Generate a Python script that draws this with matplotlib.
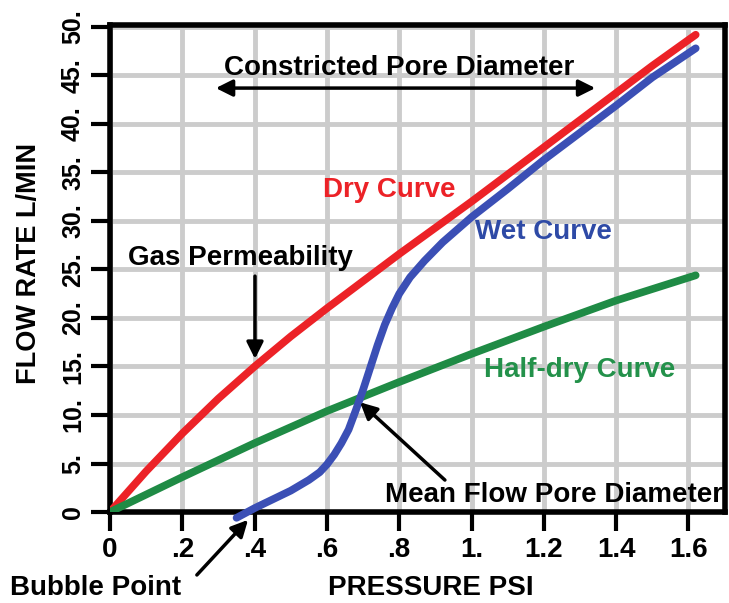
import matplotlib
matplotlib.use('Agg')
import matplotlib.pyplot as plt

plt.rcParams['font.family'] = ['Liberation Sans', 'DejaVu Sans']

# Dry curve (red)
dry_x = [0, 0.1, 0.2, 0.3, 0.4, 0.5, 0.6, 0.7, 0.8, 0.9, 1.0, 1.1, 1.2, 1.3, 1.4, 1.5, 1.62]
dry_y = [0, 4.2, 8.1, 11.7, 15.0, 18.1, 21.0, 23.8, 26.6, 29.3, 32.0, 34.8, 37.6, 40.4, 43.2, 46.0, 49.2]

# Half-dry curve (green)
half_x = [0, 0.2, 0.4, 0.6, 0.8, 1.0, 1.2, 1.4, 1.62]
half_y = [0, 3.6, 7.1, 10.4, 13.4, 16.3, 19.1, 21.8, 24.4]

# Wet curve (blue)
wet_x = [0.35, 0.40, 0.45, 0.50, 0.55, 0.58, 0.60, 0.62, 0.64, 0.66, 0.68, 0.70, 0.72,
         0.74, 0.76, 0.78, 0.80, 0.83, 0.87, 0.92, 1.00, 1.10, 1.20, 1.30, 1.40, 1.50, 1.62]
wet_y = [-0.6, 0.4, 1.3, 2.2, 3.3, 4.1, 4.9, 5.9, 7.1, 8.5, 10.5, 12.6, 14.9,
         17.2, 19.3, 21.0, 22.5, 24.2, 25.9, 27.8, 30.4, 33.3, 36.3, 39.1, 41.9, 44.8, 47.8]

x_ticks = [0, 0.2, 0.4, 0.6, 0.8, 1.0, 1.2, 1.4, 1.6]
x_labels = ['0', '.2', '.4', '.6', '.8', '1.', '1.2', '1.4', '1.6']
y_ticks = [0, 5, 10, 15, 20, 25, 30, 35, 40, 45, 50]
y_labels = ['0', '5.', '10.', '15.', '20.', '25.', '30.', '35.', '40.', '45.', '50.']

red = '#ec2227'
blue = '#3b4fb5'
green = '#1f8b45'

fig = plt.figure(figsize=(7.29, 6.03), dpi=100)
ax = fig.add_axes([0.1509, 0.1509, 0.8436, 0.8076])

ax.plot(dry_x, dry_y, color=red, lw=5.5, solid_capstyle='round', zorder=3)
ax.plot(half_x, half_y, color=green, lw=5.5, solid_capstyle='round', zorder=3)
ax.plot(wet_x, wet_y, color=blue, lw=5.5, solid_capstyle='round', zorder=3, clip_on=False)

ax.set_xlim(0, 1.701)
ax.set_ylim(0, 50.2)
ax.set_xticks(x_ticks)
ax.set_xticklabels(x_labels, fontsize=20, fontweight='bold')
ax.set_yticks(y_ticks)
ax.set_yticklabels(y_labels, fontsize=18, fontweight='bold', rotation=90, va='center')
ax.tick_params(length=14, width=3, pad=4)
ax.grid(True, color='#cccccc', lw=3.5, zorder=0)
ax.set_axisbelow(True)
for s in ax.spines.values():
    s.set_linewidth(4)

ax.set_xlabel('PRESSURE PSI', fontsize=20, fontweight='bold')
ax.xaxis.set_label_coords(0.522, -0.13)
ax.set_ylabel('FLOW RATE L/MIN', fontsize=19.5, fontweight='bold')
ax.yaxis.set_label_coords(-0.11, 0.51)

tf = dict(fontsize=20, fontweight='bold', ha='center', va='center')
arr = dict(arrowstyle='-|>', color='black', lw=2.5, mutation_scale=25)

ax.text(0.80, 45.8, 'Constricted Pore Diameter', **tf)
ax.annotate('', xy=(1.35, 43.7), xytext=(0.285, 43.7),
            arrowprops=dict(arrowstyle='<|-|>', color='black', lw=2.5, mutation_scale=25))

ax.text(0.362, 26.2, 'Gas Permeability', **tf)
ax.annotate('', xy=(0.401, 15.5), xytext=(0.401, 24.6), arrowprops=arr)

ax.text(0.772, 33.2, 'Dry Curve', color=red, **tf)
ax.text(1.20, 28.9, 'Wet Curve', color='#2e4aa6', **tf)
ax.text(1.30, 14.6, 'Half-dry Curve', color='#23914a', **tf)

ax.text(1.228, 1.75, 'Mean Flow Pore Diameter', **tf)
ax.annotate('', xy=(0.686, 11.5), xytext=(0.932, 3.1), arrowprops=arr)

ax.text(-0.041, -7.8, 'Bubble Point', clip_on=False, **tf)
ax.annotate('', xy=(0.387, -0.6), xytext=(0.235, -6.7), arrowprops=arr,
            annotation_clip=False)

fig.savefig('out.png', dpi=100)
